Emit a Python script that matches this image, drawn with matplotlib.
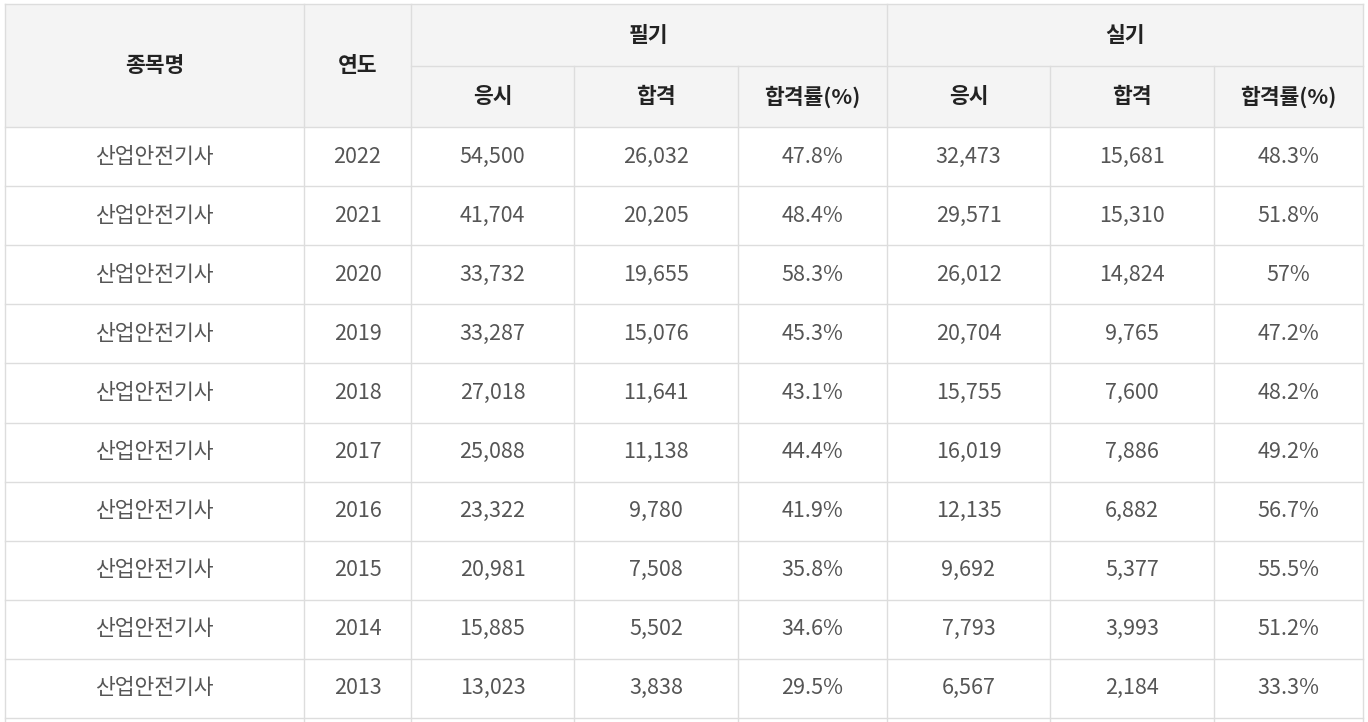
import matplotlib
matplotlib.use("Agg")
import matplotlib.pyplot as plt
from matplotlib.patches import Rectangle

plt.rcParams["font.family"] = "Noto Sans CJK KR"

names = ["산업안전기사"] * 10
years = ["2022", "2021", "2020", "2019", "2018", "2017", "2016", "2015", "2014", "2013"]
written_apply = ["54,500", "41,704", "33,732", "33,287", "27,018", "25,088", "23,322", "20,981", "15,885", "13,023"]
written_pass = ["26,032", "20,205", "19,655", "15,076", "11,641", "11,138", "9,780", "7,508", "5,502", "3,838"]
written_rate = ["47.8%", "48.4%", "58.3%", "45.3%", "43.1%", "44.4%", "41.9%", "35.8%", "34.6%", "29.5%"]
practical_apply = ["32,473", "29,571", "26,012", "20,704", "15,755", "16,019", "12,135", "9,692", "7,793", "6,567"]
practical_pass = ["15,681", "15,310", "14,824", "9,765", "7,600", "7,886", "6,882", "5,377", "3,993", "2,184"]
practical_rate = ["48.3%", "51.8%", "57%", "47.2%", "48.2%", "49.2%", "56.7%", "55.5%", "51.2%", "33.3%"]
sub_headers = ["응시", "합격", "합격률(%)", "응시", "합격", "합격률(%)"]

W, H = 1368, 722
fig = plt.figure(figsize=(W / 100, H / 100), dpi=100)
ax = fig.add_axes([0, 0, 1, 1])
ax.set_xlim(0, W)
ax.set_ylim(H, 0)
ax.axis("off")

cols = [5, 304, 411, 574, 738, 887, 1050, 1214, 1363]
top, mid, hbot = 4, 66, 127
rowh = 59.1
line = "#dddddd"
hdr_bg = "#f4f4f4"

ax.add_patch(Rectangle((cols[0], top), cols[-1] - cols[0], hbot - top, color=hdr_bg, lw=0))

def hline(y, x0, x1):
    ax.plot([x0, x1], [y, y], color=line, lw=1)

def vline(x, y0, y1):
    ax.plot([x, x], [y0, y1], color=line, lw=1)

hline(top, cols[0], cols[-1])
hline(mid, cols[2], cols[-1])
hline(hbot, cols[0], cols[-1])
nrows = len(years) + 1
for i in range(1, nrows + 1):
    hline(hbot + i * rowh, cols[0], cols[-1])
bottom = hbot + nrows * rowh
for i, x in enumerate(cols):
    if i in (3, 4, 6, 7):
        vline(x, mid, bottom)
    else:
        vline(x, top, bottom)

hkw = dict(ha="center", va="center", fontsize=15.5, fontweight="bold", color="#222222")
ax.text((cols[0] + cols[1]) / 2, (top + hbot) / 2, "종목명", **hkw)
ax.text((cols[1] + cols[2]) / 2, (top + hbot) / 2, "연도", **hkw)
ax.text((cols[2] + cols[5]) / 2, (top + mid) / 2, "필기", **hkw)
ax.text((cols[5] + cols[8]) / 2, (top + mid) / 2, "실기", **hkw)
for j, s in enumerate(sub_headers):
    ax.text((cols[j + 2] + cols[j + 3]) / 2, (mid + hbot) / 2, s, **hkw)

columns = [names, years, written_apply, written_pass, written_rate,
           practical_apply, practical_pass, practical_rate]
dkw = dict(ha="center", va="center", fontsize=15.5, color="#555555")
for j, colvals in enumerate(columns):
    for i, v in enumerate(colvals):
        ax.text((cols[j] + cols[j + 1]) / 2, hbot + (i + 0.5) * rowh, v, **dkw)

fig.savefig("out.png", dpi=100, facecolor="white")
